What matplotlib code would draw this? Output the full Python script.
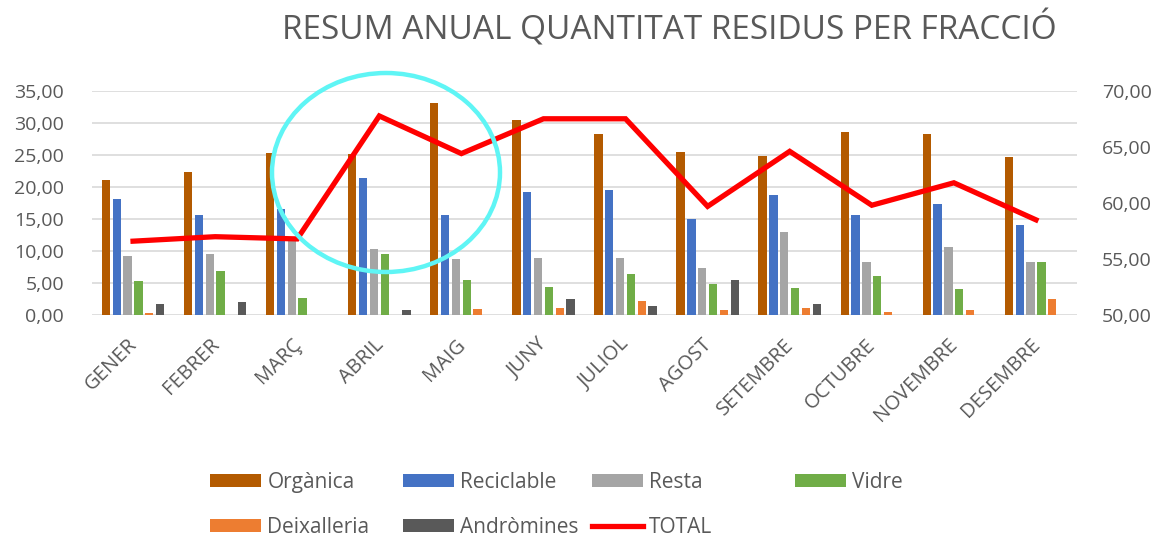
import matplotlib
matplotlib.use("Agg")
import matplotlib.pyplot as plt
import matplotlib.transforms as mtransforms
import numpy as np
from matplotlib.patches import Ellipse, Patch
from matplotlib.lines import Line2D

plt.rcParams['font.family'] = ['Open Sans', 'DejaVu Sans']

months = ["GENER", "FEBRER", "MARÇ", "ABRIL", "MAIG", "JUNY", "JULIOL",
          "AGOST", "SETEMBRE", "OCTUBRE", "NOVEMBRE", "DESEMBRE"]
organica = [21.1, 22.4, 25.3, 25.1, 33.1, 30.5, 28.3, 25.4, 24.8, 28.6, 28.3, 24.6]
reciclable = [18.2, 15.6, 16.5, 21.4, 15.6, 19.2, 19.5, 15.0, 18.7, 15.7, 17.3, 14.1]
resta = [9.2, 9.5, 12.0, 10.3, 8.7, 8.9, 9.0, 7.3, 13.0, 8.3, 10.6, 8.35]
vidre = [5.4, 6.9, 2.7, 9.5, 5.5, 4.4, 6.5, 4.8, 4.3, 6.2, 4.1, 8.35]
deixalleria = [0.3, 0.05, 0.05, 0.0, 1.0, 1.2, 2.3, 0.9, 1.2, 0.55, 0.9, 2.5]
andromines = [1.8, 2.0, 0.0, 0.9, 0.0, 2.5, 1.45, 5.5, 1.8, 0.0, 0.0, 0.0]
total = [56.6, 57.0, 56.8, 67.75, 64.4, 67.5, 67.5, 59.7, 64.6, 59.8, 61.8, 58.5]

series_names = ["Orgànica", "Reciclable", "Resta", "Vidre", "Deixalleria", "Andròmines"]
series_vals = [organica, reciclable, resta, vidre, deixalleria, andromines]
colors = ["#B35A00", "#4472C4", "#A5A5A5", "#70AD47", "#ED7D31", "#595959"]
left_ticks = [0, 5, 10, 15, 20, 25, 30, 35]
right_ticks = [50, 55, 60, 65, 70]

W, H = 1167, 541
fig = plt.figure(figsize=(W / 100, H / 100), dpi=100)
ax = fig.add_axes([92 / W, 1 - 315.3 / H, (1077 - 92) / W, (315.3 - 90.7) / H])
ax2 = ax.twinx()

x = np.arange(len(months))
pitch = 0.132
bw = 0.102
handles = []
for i, (name, vals, c) in enumerate(zip(series_names, series_vals, colors)):
    off = (i - 2.5) * pitch
    ax.bar(x + off, vals, width=bw, color=c, zorder=2)
    handles.append(Patch(facecolor=c, label=name))

ax2.plot(x, total, color="#FF0000", lw=3.8, zorder=3, solid_joinstyle='miter')
line_handle = Line2D([0], [0], color="#FF0000", lw=3.8, label="TOTAL")

ax.set_xlim(-0.5, len(months) - 0.5)
ax.set_ylim(0, 35)
ax2.set_ylim(50, 70)
ax.set_yticks(left_ticks)
ax.set_yticklabels([f"{v:.2f}".replace(".", ",") for v in left_ticks])
ax2.set_yticks(right_ticks)
ax2.set_yticklabels([f"{v:.2f}".replace(".", ",") for v in right_ticks])
ax.yaxis.grid(True, color="#D9D9D9", lw=1.2, zorder=0)
ax.set_axisbelow(True)
for a in (ax, ax2):
    for s in a.spines.values():
        s.set_visible(False)
    a.tick_params(length=0, colors="#595959", labelsize=14)
ax.tick_params(axis='y', pad=20)
ax2.tick_params(axis='y', pad=18)
ax.set_xticks(x)
ax.set_xticklabels(months, rotation=45, ha='right', rotation_mode='anchor', fontsize=14.5)
ax.tick_params(axis='x', pad=14)
shift = mtransforms.ScaledTranslation(-6 / 100, 0, fig.dpi_scale_trans)
for lbl in ax.get_xticklabels():
    lbl.set_transform(lbl.get_transform() + shift)
ax.set_zorder(1)
ax2.set_zorder(2)
ax2.patch.set_visible(False)

fig.text(669 / W, 1 - 29 / H, "RESUM ANUAL QUANTITAT RESIDUS PER FRACCIÓ",
         ha='center', va='center', fontsize=24, color="#595959")

# legend, Excel-style uniform columns
cols = [
    ([handles[0], handles[4]], 210),
    ([handles[1], handles[5]], 403),
    ([handles[2], line_handle], 592),
    ([handles[3]], 795),
]
for hs, xp in cols:
    fig.legend(handles=hs, loc='upper left', bbox_to_anchor=(xp / W, 1 - 472 / H),
               frameon=False, fontsize=15, handlelength=2.45, handleheight=0.6,
               handletextpad=0.3, labelspacing=1.15, labelcolor="#595959",
               borderaxespad=0, borderpad=0)

# cyan highlight circle annotation
ell = Ellipse((386 / W, 1 - 172.5 / H), 228 / W, 199 / H, transform=fig.transFigure,
              fill=False, edgecolor="#5FF5F5", lw=3.2, zorder=10)
fig.add_artist(ell)

fig.savefig("out.png", dpi=100)
